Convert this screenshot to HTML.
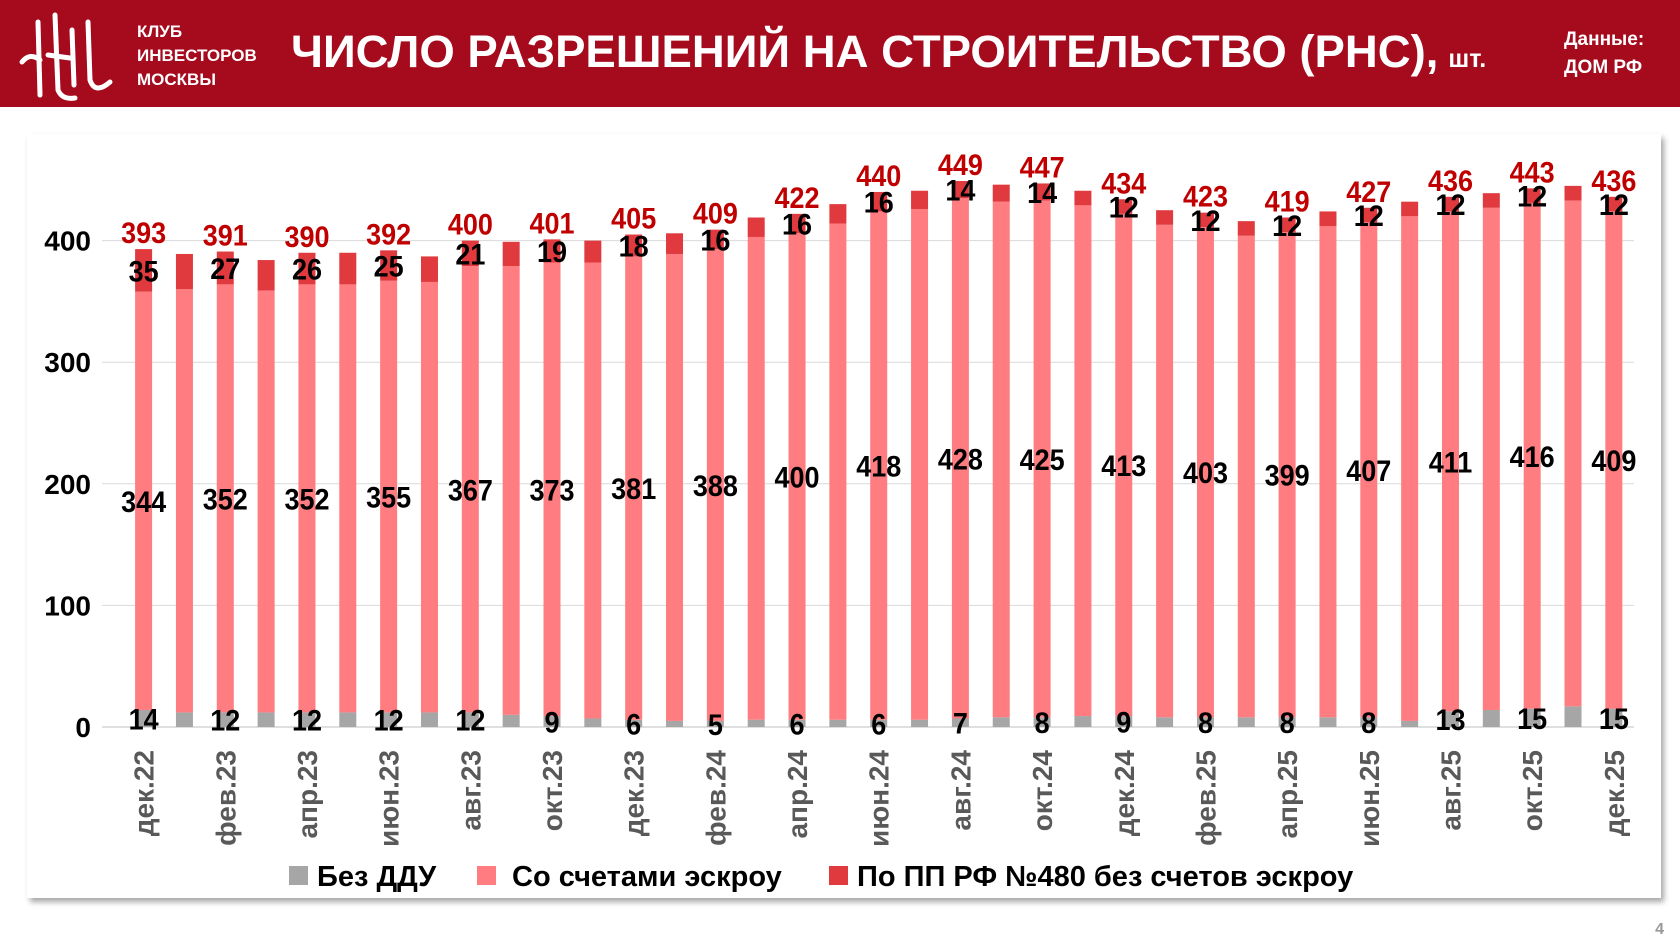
<!DOCTYPE html>
<html><head><meta charset="utf-8"><style>
html,body{margin:0;padding:0;background:#fff;}
svg{display:block;font-family:"Liberation Sans",sans-serif;}
</style></head><body>
<svg width="1680" height="945" viewBox="0 0 1680 945">
<defs><filter id="sh" x="-5%" y="-5%" width="110%" height="110%"><feDropShadow dx="3" dy="4" stdDeviation="3" flood-color="#000" flood-opacity="0.35"/></filter></defs>
<rect x="0" y="0" width="1680" height="107" fill="#a50a1d"/>
<g fill="none" stroke="#fff" stroke-width="5" stroke-linecap="round">
<path d="M22 62 Q30 52 40 60 M38 22 L40 95 M55 15 L58 90 Q62 100 75 98 M48 55 L70 58 M72 30 L74 85 M88 22 L90 80 Q95 95 110 82"/>
</g>
<text x="137" y="37" font-size="17" font-weight="bold" fill="#fff">КЛУБ</text>
<text x="137" y="61" font-size="17" font-weight="bold" fill="#fff">ИНВЕСТОРОВ</text>
<text x="137" y="85" font-size="17" font-weight="bold" fill="#fff">МОСКВЫ</text>
<text x="291" y="67" font-size="45.5" font-weight="bold" fill="#fff">ЧИСЛО РАЗРЕШЕНИЙ НА СТРОИТЕЛЬСТВО (РНС),<tspan font-size="25" dx="10">шт.</tspan></text>
<text x="1564" y="45" font-size="19" font-weight="bold" fill="#fff">Данные:</text>
<text x="1564" y="73" font-size="19" font-weight="bold" fill="#fff">ДОМ РФ</text>
<rect x="27" y="134" width="1634" height="764" fill="#fff" filter="url(#sh)"/>
<g id="chart"></g>
<g>
<rect x="289" y="866" width="19" height="19" fill="#a6a6a6"/>
<text x="317" y="886" font-size="29" font-weight="bold">Без ДДУ</text>
<rect x="477" y="866" width="19" height="19" fill="#ff7c80"/>
<text x="512" y="886" font-size="29" font-weight="bold">Со счетами эскроу</text>
<rect x="829" y="866" width="19" height="19" fill="#e0393e"/>
<text x="857" y="886" font-size="29" font-weight="bold">По ПП РФ №480 без счетов эскроу</text>
</g>
<text x="1664" y="934" font-size="16" font-weight="bold" fill="#999" text-anchor="end">4</text>
</svg>
<script>
const months = ["дек.22","янв.23","фев.23","мар.23","апр.23","май.23","июн.23","июл.23","авг.23","сен.23","окт.23","ноя.23","дек.23","янв.24","фев.24","мар.24","апр.24","май.24","июн.24","июл.24","авг.24","сен.24","окт.24","ноя.24","дек.24","янв.25","фев.25","мар.25","апр.25","май.25","июн.25","июл.25","авг.25","сен.25","окт.25","ноя.25","дек.25"];
const noDdu = [14,12,12,12,12,12,12,12,12,10,9,7,6,5,5,6,6,6,6,6,7,8,8,9,9,8,8,8,8,8,8,5,13,14,15,17,15];
const escrow = [344,348,352,347,352,352,355,354,367,369,373,375,381,384,388,397,400,408,418,420,428,424,425,420,413,405,403,396,399,404,407,415,411,413,416,416,409];
const pp480 = [35,29,27,25,26,26,25,21,21,20,19,18,18,17,16,16,16,16,16,15,14,14,14,12,12,12,12,12,12,12,12,12,12,12,12,12,12];
const yTicks = [0,100,200,300,400];
const labelEvery = 2;

const NS="http://www.w3.org/2000/svg";
const g=document.getElementById('chart');
const x0=102,x1=1634;
function yPix(v){return 727 - v*1.216;}
function xPix(i){return 143.6 + i*40.84;}
const bw=17;
function mk(tag,attrs,parent){const e=document.createElementNS(NS,tag);for(const k in attrs)e.setAttribute(k,attrs[k]);(parent||g).appendChild(e);return e;}
yTicks.forEach(t=>{
  const l=mk('line',{x1:x0,x2:x1,y1:yPix(t),y2:yPix(t),stroke:t===0?'#bfbfbf':'#d9d9d9','stroke-width':1});
  
  
  const tx=mk('text',{x:91,y:yPix(t)+10,'font-size':28,'font-weight':'bold','text-anchor':'end',fill:'#000'});
  tx.textContent=t;
  
  
});
months.forEach((m,i)=>{
  const cx=xPix(i), a=noDdu[i], b=escrow[i], c=pp480[i], tot=a+b+c;
  const r1=mk('rect',{x:cx-bw/2,y:yPix(a),width:bw,height:yPix(0)-yPix(a),fill:'#a6a6a6'});
  
  
  const r2=mk('rect',{x:cx-bw/2,y:yPix(a+b),width:bw,height:yPix(a)-yPix(a+b),fill:'#ff7c80'});
  
  
  const r3=mk('rect',{x:cx-bw/2,y:yPix(tot),width:bw,height:yPix(a+b)-yPix(tot),fill:'#e0393e'});
  
  
  if(i%labelEvery===0){
    const lbl=(txt,y,col,name)=>{const t=mk('text',{'font-size':30,'font-weight':'bold','text-anchor':'middle',fill:col,transform:'translate('+cx+','+y+') scale(0.9,1)'});t.textContent=txt;};
    lbl(a,yPix(a/2)+11,'#000','label-no-ddu-'+i);
    lbl(b,yPix(a+b/2)+11,'#000','label-escrow-'+i);
    lbl(c,yPix(a+b+c/2)+11,'#000','label-pp480-'+i);
    lbl(tot,yPix(tot)-6,'#c00000','label-total-'+i);
    const xt=mk('text',{'font-size':28,'font-weight':'bold','text-anchor':'end',fill:'#595959',transform:'translate('+(cx+10)+',750) rotate(-90)'});
    xt.textContent=m;
    
    
  }
});
</script>
</body></html>
